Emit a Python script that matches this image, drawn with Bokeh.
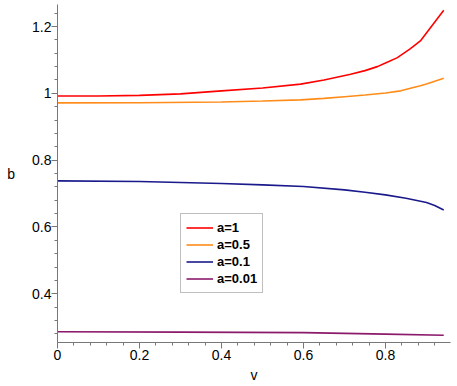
from bokeh.plotting import figure
from bokeh.models import Range1d, FixedTicker, Legend, LegendItem
from bokeh.embed import file_html
from bokeh.resources import INLINE

# data
v_red = [0.0, 0.1, 0.2, 0.3, 0.4, 0.5, 0.593, 0.65, 0.715, 0.75, 0.78, 0.80, 0.829, 0.86, 0.885, 0.942]
b_red = [0.992, 0.992, 0.994, 0.9985, 1.0075, 1.016, 1.0275, 1.040, 1.057, 1.068, 1.080, 1.091, 1.107, 1.133, 1.157, 1.249]

v_orange = [0.0, 0.2, 0.4, 0.5, 0.593, 0.65, 0.7, 0.75, 0.8, 0.837, 0.885, 0.9, 0.942]
b_orange = [0.9716, 0.972, 0.974, 0.977, 0.9805, 0.985, 0.99, 0.995, 1.001, 1.0075, 1.0225, 1.028, 1.0455]

v_blue = [0.0, 0.2, 0.4, 0.5, 0.6, 0.7, 0.75, 0.8, 0.85, 0.9, 0.92, 0.942]
b_blue = [0.738, 0.736, 0.730, 0.726, 0.721, 0.711, 0.704, 0.696, 0.686, 0.673, 0.664, 0.651]

v_purple = [0.0, 0.3, 0.6, 0.8, 0.942]
b_purple = [0.286, 0.285, 0.2835, 0.279, 0.2755]

labels = ["a=1", "a=0.5", "a=0.1", "a=0.01"]

x_ticks = [0, 0.2, 0.4, 0.6, 0.8]
x_tick_labels = ["0", "0.2", "0.4", "0.6", "0.8"]
x_minor = [0.04 * i for i in range(0, 25)]
y_ticks = [0.4, 0.6, 0.8, 1.0, 1.2]
y_tick_labels = ["0.4", "0.6", "0.8", "1", "1.2"]
y_minor = [0.24 + 0.04 * i for i in range(0, 26)]

p = figure(width=457, height=386, output_backend="svg", toolbar_location=None,
           x_range=Range1d(0, 0.9585), y_range=Range1d(0.254, 1.266),
           min_border_left=57, min_border_right=7, min_border_top=4, min_border_bottom=44)
p.outline_line_color = None
p.xgrid.visible = False
p.ygrid.visible = False
p.background_fill_color = "white"
p.border_fill_color = "white"

font = "Liberation Sans"
for ax in (p.xaxis[0], p.yaxis[0]):
    ax.axis_line_color = "#777777"
    ax.major_tick_line_color = "#777777"
    ax.minor_tick_line_color = "#777777"
    ax.major_tick_in = 0
    ax.minor_tick_in = 0
    ax.major_tick_out = 6
    ax.minor_tick_out = 3
    ax.major_label_text_font = font
    ax.major_label_text_font_size = "14px"
    ax.major_label_text_color = "black"
    ax.axis_label_text_font = font
    ax.axis_label_text_font_size = "14px"
    ax.axis_label_text_font_style = "normal"
    ax.axis_label_text_color = "black"

p.xaxis[0].ticker = FixedTicker(ticks=x_ticks, minor_ticks=x_minor)
p.yaxis[0].ticker = FixedTicker(ticks=y_ticks, minor_ticks=y_minor)
p.xaxis[0].major_label_overrides = {t: s for t, s in zip(x_ticks, x_tick_labels)}
p.yaxis[0].major_label_overrides = {t: s for t, s in zip(y_ticks, y_tick_labels)}
p.xaxis[0].axis_label = "v"
p.yaxis[0].axis_label = "b"
p.yaxis[0].axis_label_orientation = "horizontal"
p.xaxis[0].major_label_standoff = 1
p.yaxis[0].major_label_standoff = 0
p.xaxis[0].axis_label_standoff = 4
p.yaxis[0].axis_label_standoff = 14

r1 = p.line(v_red, b_red, line_color="#ff0000", line_width=1.6)
r2 = p.line(v_orange, b_orange, line_color="#ff8c1a", line_width=1.6)
r3 = p.line(v_blue, b_blue, line_color="#1a1a8c", line_width=1.6)
r4 = p.line(v_purple, b_purple, line_color="#8b1a6a", line_width=1.6)

legend = Legend(items=[LegendItem(label=labels[0], renderers=[r1]),
                       LegendItem(label=labels[1], renderers=[r2]),
                       LegendItem(label=labels[2], renderers=[r3]),
                       LegendItem(label=labels[3], renderers=[r4])],
                location=(123, 49))
legend.label_text_font = font
legend.label_text_font_size = "13px"
legend.label_text_font_style = "bold"
legend.label_text_color = "black"
legend.border_line_color = "#808080"
legend.border_line_width = 1
legend.background_fill_alpha = 1
legend.padding = 5
legend.margin = 0
legend.spacing = 0
legend.label_height = 17
legend.glyph_height = 17
legend.glyph_width = 27
legend.label_standoff = 4
p.add_layout(legend, "center")

open("out.html", "w").write(file_html(p, INLINE))
